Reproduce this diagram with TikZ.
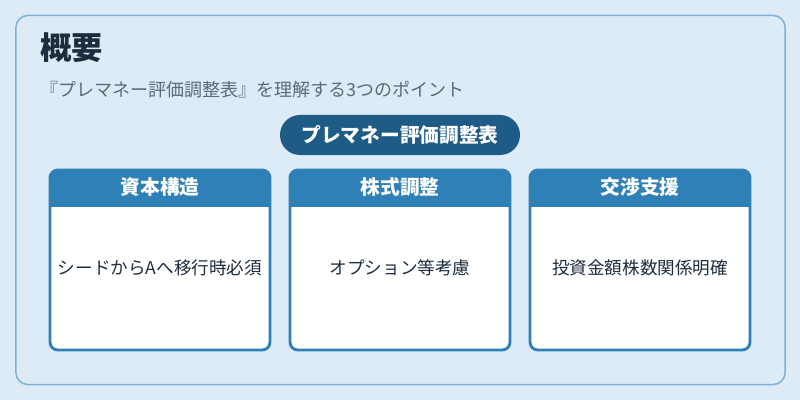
\documentclass[tikz,border=0pt]{standalone}
\usepackage{fontspec}
\setmainfont{Noto Sans CJK JP}
\definecolor{pagebg}{RGB}{220, 235, 246}
\definecolor{frameblue}{RGB}{126, 178, 211}
\definecolor{pillblue}{RGB}{31, 91, 135}
\definecolor{hdblue}{RGB}{46, 128, 182}
\definecolor{inkdark}{RGB}{30, 45, 61}
\definecolor{inkgray}{RGB}{91, 107, 123}
\usetikzlibrary{positioning, calc}

\begin{document}
\begin{tikzpicture}[x=0.025cm, y=0.025cm,
  card/.style={draw=hdblue, line width=2pt, fill=white, rounded corners=0.2cm,
               minimum width=5.5cm, minimum height=4.5cm, inner sep=0pt,
               path picture={\fill[hdblue, sharp corners] (path picture bounding box.north west)
                 rectangle ([yshift=-0.925cm]path picture bounding box.north east);}},
  cardhd/.style={font=\bfseries\fontsize{14}{17}\selectfont, text=white, inner sep=0pt},
  cardtx/.style={font=\fontsize{12.5}{15}\selectfont, text=inkdark, inner sep=0pt},
]
% Background and frame
\fill[pagebg] (0,0) rectangle (800,400);
\node[draw=frameblue, line width=1.1pt, rounded corners=0.3cm, minimum width=19.225cm,
      minimum height=9.225cm] (frame) at (400.5,200) {};

% Heading
\node[anchor=west, inner sep=0pt, font=\bfseries\fontsize{22.3}{26}\selectfont, text=inkdark]
  (title) at (40,352) {概要};
\node[anchor=west, inner sep=0pt, font=\fontsize{12.8}{15}\selectfont, text=inkgray]
  (sub) at (40,310) {『プレマネー評価調整表』を理解する3つのポイント};

% Pill
\node[fill=pillblue, rounded corners=0.5cm, minimum width=6cm, minimum height=1cm,
      font=\bfseries\fontsize{14}{17}\selectfont, text=white] (pill) at (400,265) {プレマネー評価調整表};

% Cards
\node[card] (struct) at (160,140) {};
\node[cardhd] (structhd) at ([yshift=-0.45cm]struct.north) {資本構造};
\node[cardtx] (structtx) at (160,132) {シードからAへ移行時必須};

\node[card] (share) at (400,140) {};
\node[cardhd] (sharehd) at ([yshift=-0.45cm]share.north) {株式調整};
\node[cardtx] (sharetx) at (400,132) {オプション等考慮};

\node[card] (nego) at (640,140) {};
\node[cardhd] (negohd) at ([yshift=-0.45cm]nego.north) {交渉支援};
\node[cardtx] (negotx) at (640,132) {投資金額株数関係明確};
\end{tikzpicture}
\end{document}
